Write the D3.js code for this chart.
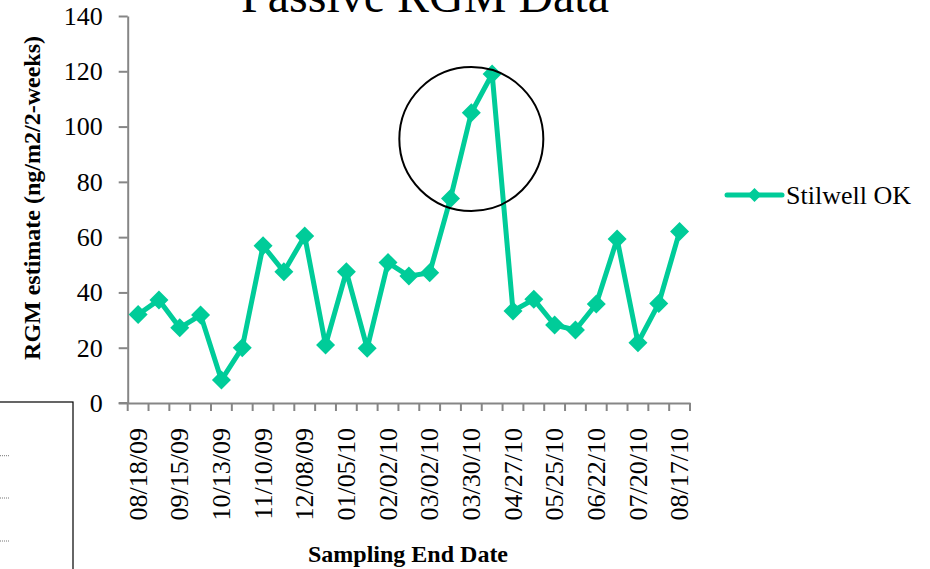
<!DOCTYPE html>
<html>
<head>
<meta charset="utf-8">
<script src="https://cdn.jsdelivr.net/npm/d3@7"></script>
<style>
  html, body { margin: 0; padding: 0; background: #fff; }
  svg { display: block; }
  text { font-family: "Liberation Serif", "Times New Roman", serif; fill: #000; }
</style>
</head>
<body>
<script>
// ---- data ----
const dates = ["08/18/09","09/01/09","09/15/09","09/29/09","10/13/09","10/27/09","11/10/09","11/24/09",
  "12/08/09","12/22/09","01/05/10","01/19/10","02/02/10","02/16/10","03/02/10","03/16/10","03/30/10",
  "04/13/10","04/27/10","05/11/10","05/25/10","06/08/10","06/22/10","07/06/10","07/20/10","08/03/10","08/17/10"];
const stilwellOK = [32, 37.3, 27.2, 31.8, 8.3, 20, 56.9, 47.5, 60.4, 21, 47.5, 19.8, 50.8, 45.9, 47.1,
  74, 105, 119, 33.3, 37.5, 28.2, 26.4, 35.8, 59.3, 21.8, 36, 62];
const yTicks = [0, 20, 40, 60, 80, 100, 120, 140];
const seriesName = "Stilwell OK";
const titleText = "Passive RGM Data";
const yTitle = "RGM estimate (ng/m2/2-weeks)";
const xTitle = "Sampling End Date";
const highlightIndex = 16;   // circled peak region centre (category)
const highlightValue = 95.5; // circled region centre (value)

(function () {
// ---- layout ----
const W = 930, H = 569;
const pLeft = 127.7, pRight = 690, pTop = 16, pBottom = 403;
const color = "#00cc99";
const axisColor = "#868686";

const svg = d3.select("body").append("svg").attr("width", W).attr("height", H);

const x = d3.scaleBand().domain(dates).range([pLeft, pRight]).padding(0);
const y = d3.scaleLinear().domain([0, 140]).range([pBottom, pTop]);
const cx = d => x(d) + x.bandwidth() / 2;

// bottom-left stray box
const box = svg.append("g");
box.append("rect").attr("x", -5).attr("y", 402).attr("width", 78).attr("height", 200)
  .attr("fill", "none").attr("stroke", "#000").attr("stroke-width", 1.2);
[455.7, 498, 541].forEach(yy => {
  box.append("line").attr("x1", 0).attr("x2", 10).attr("y1", yy).attr("y2", yy)
    .attr("stroke", "#777").attr("stroke-width", 1).attr("stroke-dasharray", "1,1");
});

// title
svg.append("text").attr("x", 425).attr("y", 12).attr("text-anchor", "middle")
  .style("font-size", "48px").text(titleText);

// y axis
const yAxis = d3.axisLeft(y).tickValues(yTicks).tickSize(9).tickPadding(16).tickSizeOuter(0);
const gy = svg.append("g").attr("transform", `translate(${pLeft},0)`).call(yAxis);
gy.select(".domain").attr("stroke", axisColor).attr("stroke-width", 2);
gy.selectAll(".tick line").attr("stroke", axisColor).attr("stroke-width", 2);
gy.selectAll(".tick text").style("font-size", "26px").style("font-family", "Liberation Serif").attr("fill", "#000");

// x axis (labels at category centers, ticks at boundaries)
const xAxis = d3.axisBottom(x).tickSize(0).tickSizeOuter(0)
  .tickFormat((d, i) => i % 2 === 0 ? d : "");
const gx = svg.append("g").attr("transform", `translate(0,${pBottom})`).call(xAxis);
gx.select(".domain").attr("stroke", axisColor).attr("stroke-width", 2);
gx.selectAll(".tick text")
  .style("font-size", "26px").style("font-family", "Liberation Serif").attr("fill", "#000")
  .attr("text-anchor", "end")
  .attr("transform", "translate(0,25) rotate(-90)")
  .attr("x", 0).attr("y", 0).attr("dy", "0.33em");
const bounds = dates.map(d => x(d)).concat([x.range()[1]]);
gx.selectAll("line.bt").data(bounds).enter().append("line").attr("class", "bt")
  .attr("x1", d => d).attr("x2", d => d).attr("y1", 0).attr("y2", 8)
  .attr("stroke", axisColor).attr("stroke-width", 2);
svg.append("line").attr("x1", pLeft - 9).attr("x2", pLeft).attr("y1", pBottom).attr("y2", pBottom)
  .attr("stroke", axisColor).attr("stroke-width", 2);

// axis titles
svg.append("text").attr("transform", `translate(40,${(38 + 358) / 2}) rotate(-90)`)
  .attr("text-anchor", "middle").style("font-size", "24px").style("font-weight", "bold").text(yTitle);
svg.append("text").attr("x", 408).attr("y", 562).attr("text-anchor", "middle")
  .style("font-size", "24px").style("font-weight", "bold").text(xTitle);

// series line
const line = d3.line().x((d, i) => cx(dates[i])).y(d => y(d));
svg.append("path").datum(stilwellOK).attr("d", line)
  .attr("fill", "none").attr("stroke", color).attr("stroke-width", 5).attr("stroke-linejoin", "round");

const diamond = s => `M0,${-s}L${s},0L0,${s}L${-s},0Z`;
svg.append("g").selectAll("path").data(stilwellOK).enter().append("path")
  .attr("d", diamond(9.5))
  .attr("transform", (d, i) => `translate(${cx(dates[i])},${y(d)})`)
  .attr("fill", color);

// highlight circle
svg.append("circle").attr("cx", cx(dates[highlightIndex])).attr("cy", y(highlightValue)).attr("r", 72)
  .attr("fill", "none").attr("stroke", "#000").attr("stroke-width", 2);

// legend
const lg = svg.append("g").attr("transform", "translate(727,195)");
lg.append("line").attr("x1", 0).attr("x2", 55).attr("y1", 0).attr("y2", 0)
  .attr("stroke", color).attr("stroke-width", 5).attr("stroke-linecap", "round");
lg.append("path").attr("d", diamond(7)).attr("transform", "translate(27.5,0)").attr("fill", color);
lg.append("text").attr("x", 59).attr("y", 0).attr("dy", "0.35em").style("font-size", "26px").text(seriesName);
})();
</script>
</body>
</html>
